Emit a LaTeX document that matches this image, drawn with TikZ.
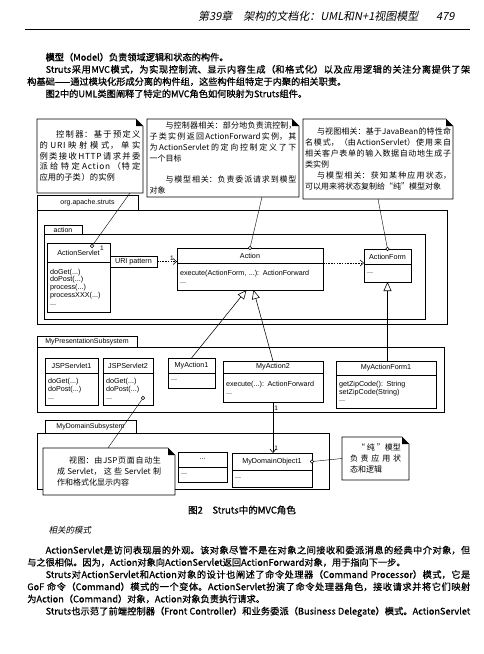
\documentclass[tikz,border=0pt]{standalone}
\usepackage{fontspec}
\setmainfont{Liberation Sans}
\newfontfamily\cjk{Noto Sans CJK SC}
\newfontfamily\cjkpage[FakeBold=0.7]{Noto Sans CJK SC}
\newfontfamily\cjkbold[FakeBold=2.5]{Noto Sans CJK SC}
\newfontfamily\cjkslant[FakeSlant=0.2]{Noto Sans CJK SC}
\newfontfamily\cjkspaced[LetterSpace=8]{Noto Sans CJK SC}
\newfontfamily\cjkwide[LetterSpace=25]{Noto Sans CJK SC}
\XeTeXlinebreaklocale "zh"
\XeTeXlinebreakskip=0pt plus 1pt minus 0.3pt
\usetikzlibrary{arrows.meta, positioning}

\newcommand\classfont{\fontsize{7.2}{7.8}\selectfont}
\newcommand\notefont{\cjk\fontsize{8}{10.9}\selectfont}
\newcommand\pagefont{\cjkpage\fontsize{9.2}{12.2}\selectfont\parindent=0pt\hyphenpenalty=10000\exhyphenpenalty=10000}

\begin{document}
\begin{tikzpicture}[x=1pt, y=-1pt, line width=0.55pt,
        umlclass/.style={draw, outer sep=0pt, inner sep=1pt, anchor=north west, font=\classfont},
        umlops/.style={draw, outer sep=0pt, inner xsep=3pt, inner ysep=2pt, align=left, font=\classfont},
        pkgtab/.style={draw, outer sep=0pt, inner sep=0pt, anchor=north west, font=\fontsize{7}{8}\selectfont},
        umlnote/.style={fill=white, outer sep=0pt, inner ysep=0pt, anchor=north west, align=justify, font=\notefont},
        pagetext/.style={inner sep=0pt, anchor=north west, text width=443pt, align=justify, font=\pagefont},
        notepin/.style={circle, draw, fill=white, inner sep=0pt, minimum size=3.4pt},
        notelink/.style={line width=0.4pt},
        deparrow/.style={-{Straight Barb[length=3.5pt, width=6pt]}, dash pattern=on 1.5pt off 1.2pt},
        assocarrow/.style={-{Straight Barb[length=3.5pt, width=6pt]}},
        genarrow/.style={-{Triangle[open, length=9pt, width=8pt]}},
        multlabel/.style={font=\fontsize{6.5}{7}\selectfont, inner sep=1pt}
    ]
        \fill[white] (0,0) rectangle (484,654);
        \useasboundingbox (0,0) rectangle (484,654);

        % Page head
        \node[anchor=base east, font=\cjkslant\fontsize{11}{12}\selectfont] (chapterHead) at (422,20) {第39章\hspace{1em}架构的文档化：UML和N+1视图模型};
        \node[anchor=base east, font=\cjkslant\fontsize{11}{12}\selectfont] (pageNo) at (458,20) {479};
        \draw[line width=0.6pt] (25,29) -- (470,29);

        % Text above the figure
        \node[pagetext] (introText) at (27,52.5) {\hspace*{2em}{\cjkbold 模型}（Model）负责领域逻辑和状态的构件。\par
            \hspace*{2em}Struts采用MVC模式，为实现控制流、显示内容生成（和格式化）以及应用逻辑的关注分离提供了架\linebreak 构基础——通过模块化形成分离的构件组，这些构件组特定于内聚的相关职责。\par
            \hspace*{2em}图2中的UML类图阐释了特定的MVC角色如何映射为Struts组件。};

        % Packages
        \node[pkgtab, minimum width=101pt, minimum height=15pt] (orgTab) at (37,195) {org.apache.struts};
        \draw (37,210) rectangle (447,324);
        \node[pkgtab, minimum width=38pt, minimum height=9pt] (actionTab) at (44,225) {action};
        \draw (44,234) rectangle (425,319);
        \node[pkgtab, minimum width=100pt, minimum height=11pt] (presTab) at (37,336) {MyPresentationSubsystem};
        \draw (37,347) rectangle (444,412);
        \node[pkgtab, minimum width=91pt, minimum height=13pt] (domTab) at (45,420) {MyDomainSubsystem};
        \draw (37,433) rectangle (329,489);

        % Classes in org.apache.struts.action
        \node[umlclass, minimum width=63pt, minimum height=19pt] (asName) at (47,243) {ActionServlet};
        \node[umlops, text width=57pt, minimum height=50pt, below=0pt of asName] (asOps) {doGet(...)\\doPost(...)\\process(...)\\processXXX(...)\\...};
        \node[umlclass, minimum width=47pt, minimum height=11pt, inner sep=0pt] (uriBox) at (110,256) {URI pattern};
        \node[umlclass, minimum width=146pt, minimum height=15pt] (actName) at (177,248) {Action};
        \node[umlops, text width=140pt, minimum height=27pt, below=0pt of actName] (actOps) {execute(ActionForm, ...): ActionForward\\...};
        \node[umlclass, minimum width=47pt, minimum height=15pt] (formName) at (364,249) {ActionForm};
        \node[umlops, text width=41pt, minimum height=18pt, below=0pt of formName] (formOps) {...};

        % Classes in MyPresentationSubsystem
        \node[umlclass, minimum width=53pt, minimum height=15pt] (jsp1Name) at (45,358) {JSPServlet1};
        \node[umlops, text width=47pt, minimum height=32pt, below=0pt of jsp1Name] (jsp1Ops) {doGet(...)\\doPost(...)\\...};
        \node[umlclass, minimum width=50pt, minimum height=15pt] (jsp2Name) at (103,358) {JSPServlet2};
        \node[umlops, text width=44pt, minimum height=32pt, below=0pt of jsp2Name] (jsp2Ops) {doGet(...)\\doPost(...)\\...};
        \node[umlclass, minimum width=47pt, minimum height=15pt] (ma1Name) at (168,358) {MyAction1};
        \node[umlops, text width=41pt, minimum height=15pt, below=0pt of ma1Name] (ma1Ops) {...};
        \node[umlclass, minimum width=100pt, minimum height=12pt] (ma2Name) at (223,361) {MyAction2};
        \node[umlops, text width=94pt, minimum height=29pt, below=0pt of ma2Name] (ma2Ops) {execute(...): ActionForward\\...};
        \node[umlclass, minimum width=100pt, minimum height=14pt] (mf1Name) at (336,361) {MyActionForm1};
        \node[umlops, text width=94pt, minimum height=33pt, below=0pt of mf1Name] (mf1Ops) {getZipCode(): String\\setZipCode(String)\\...};

        % Classes in MyDomainSubsystem
        \node[umlclass, minimum width=49pt, minimum height=15pt] (anonName) at (178,452) {...};
        \node[umlops, text width=43pt, minimum height=15pt, below=0pt of anonName] (anonOps) {...};
        \node[umlclass, minimum width=80pt, minimum height=17pt] (domName) at (232,453) {MyDomainObject1};
        \node[umlops, text width=74pt, minimum height=17pt, below=0pt of domName] (domOps) {...};

        % Notes
        \node[umlnote, minimum width=106pt, minimum height=74pt, text width=101pt, inner xsep=2.5pt,
            font=\cjkspaced\fontsize{8.3}{10.8}\selectfont] (n1) at (37,119) {\hspace*{2em}控制器：基于预定义\linebreak 的URI映射模式，单实\linebreak 例类接收HTTP请求并委\linebreak 派给特定Action（特定\linebreak 应用的子类）的实例};
        \node[umlnote, minimum width=152pt, minimum height=78pt, text width=147pt, inner xsep=2.5pt] (n2) at (147,119) {\hspace*{2em}与控制器相关：部分地负责流控制，\linebreak 子类实例返回ActionForward实例，其\linebreak 为ActionServlet的定向控制定义了下\linebreak 一个目标\newline\mbox{}\newline\hspace*{2em}与模型相关：负责委派请求到模型\linebreak 对象};
        \node[umlnote, minimum width=150pt, minimum height=80pt, text width=146pt, inner xsep=2pt] (n3) at (303,119) {\hspace*{1.5em}与视图相关：基于JavaBean的特性命\linebreak 名模式，（由ActionServlet）使用来自\linebreak 相关客户表单的输入数据自动地生成子\linebreak 类实例\newline\hspace*{1.5em}与模型相关：获知某种应用状态，\linebreak 可以用来将状态复制给“纯”模型对象};
        \node[umlnote, minimum width=132pt, minimum height=47pt, text width=104pt, inner xsep=14pt] (n4) at (43,448) {\hspace*{1.5em}视图：由JSP页面自动生\linebreak 成Servlet，这些Servlet制\linebreak 作和格式化显示内容};
        \node[umlnote, minimum width=67pt, minimum height=43pt, text width=51pt, inner xsep=8pt,
            font=\cjkwide\fontsize{8}{10.9}\selectfont] (n5) at (342,437) {\hfill “纯”模型\newline 负责应用状\linebreak 态和逻辑};

        % Folded corners
        \foreach \n in {n1,n2,n3,n4,n5} {
            \draw ([xshift=-7pt]\n.north east) -- (\n.north west) -- (\n.south west) -- (\n.south east) -- ([yshift=-7pt]\n.north east) -- cycle;
            \fill ([xshift=-7pt]\n.north east) -- ([xshift=-7pt,yshift=-7pt]\n.north east) -- ([yshift=-7pt]\n.north east) -- cycle;
        }

        % Note anchors
        \node[notepin] (asPin) at (92,246) {};
        \node[notepin] (actPin) at (actName.north) {};
        \node[notepin] (formPin) at (formName.north) {};
        \node[notepin] (jspPin) at (143,398) {};
        \node[notepin] (domPin) at (domName.east) {};
        \draw[notelink] ([xshift=-13pt]n1.south east) -- (asPin);
        \draw[notelink] ([xshift=-37pt]n2.south east) -- (actPin);
        \draw[notelink] (n3.south) -- (formPin);
        \draw[notelink] (jspPin) -- ([xshift=65pt]n4.north west);
        \draw[notelink] (domPin) -- (n5.west);
        \node[multlabel] (asMult) at (102,248.5) {1};

        % Associations and dependencies
        \draw[deparrow] (uriBox.east) -- (uriBox.east -| actName.west) node[multlabel, pos=0.75, above] {1};
        \draw[deparrow] (actName.south east) -- (actName.south east -| formName.west);
        \draw[assocarrow] (ma2Ops.south) -- (ma2Ops.south |- domName.north)
            node[multlabel, pos=0.12, right] {1} node[multlabel, pos=0.9, right] {1};

        % Generalizations
        \draw[genarrow] (ma1Name.north) -- ([xshift=-3.5pt]actOps.south);
        \draw[genarrow] (ma2Name.north) -- ([xshift=3.5pt]actOps.south);
        \draw[genarrow] (mf1Name.north -| formOps.south) -- (formOps.south);

        % Caption and text below the figure
        \node[font=\cjkpage\fontsize{9.5}{11}\selectfont] (caption) at (242,510) {图2\hspace{1em}Struts中的MVC角色};
        \node[anchor=west, font=\cjkslant\fontsize{8.5}{10}\selectfont] (relHead) at (45,530) {相关的模式};
        \node[pagetext] (relText) at (27,545.5) {\hspace*{2em}ActionServlet是访问表现层的外观。该对象尽管不是在对象之间接收和委派消息的经典中介对象，但\linebreak 与之很相似。因为，Action对象向ActionServlet返回ActionForward对象，用于指向下一步。\par
            \hspace*{2em}Struts对ActionServlet和Action对象的设计也阐述了命令处理器（Command Processor）模式，它是\linebreak GoF 命令（Command）模式的一个变体。ActionServlet扮演了命令处理器角色，接收请求并将它们映射\linebreak 为Action（Command）对象，Action对象负责执行请求。\par
            \hspace*{2em}Struts也示范了前端控制器（Front Controller）和业务委派（Business Delegate）模式。ActionServlet\linebreak\mbox{}};
    \end{tikzpicture}
\end{document}
